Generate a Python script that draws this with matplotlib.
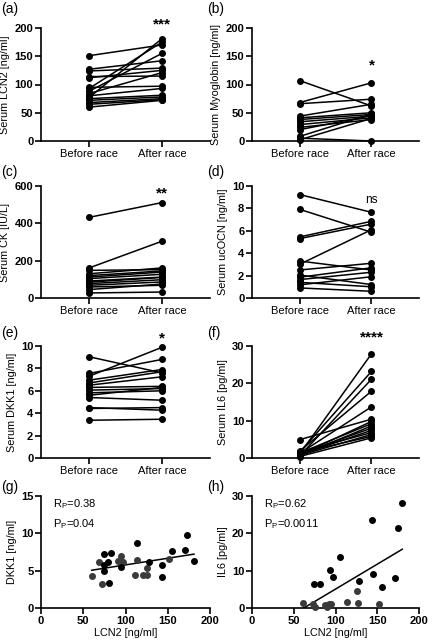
"""Serum markers before / after race, paired plots + LCN2 correlations"""

import numpy as np
import matplotlib
matplotlib.use('Agg')
import matplotlib.pyplot as plt

plt.rcParams['font.family'] = ['Liberation Sans', 'DejaVu Sans']

groups = ['Before race', 'After race']

lcn2_before = [151, 127, 124, 114, 112, 95, 93, 88, 84, 80, 77, 75, 72, 68, 65, 60]
lcn2_after = [170, 142, 129, 115, 125, 97, 175, 155, 121, 93, 181, 81, 78, 75, 73, 72]

myo_before = [107, 68, 66, 44, 41, 38, 34, 29, 24, 20, 8, 5, 2]
myo_after = [62, 103, 74, 65, 50, 47, 44, 41, 38, 45, 48, 0, 40]

ck_before = [432, 161, 148, 130, 112, 104, 91, 77, 68, 59, 45, 27, 120, 85]
ck_after = [511, 304, 152, 161, 139, 127, 112, 98, 86, 68, 75, 32, 145, 110]

ocn_before = [9.24, 7.92, 5.45, 5.3, 3.3, 3.0, 2.5, 2.05, 1.85, 1.64, 1.4, 1.17, 0.9]
ocn_after = [7.65, 5.87, 6.85, 6.6, 2.5, 6.1, 3.1, 1.2, 2.7, 2.3, 1.0, 1.9, 0.6]

dkk1_before = [9.04, 7.55, 7.3, 6.95, 6.7, 6.5, 6.3, 6.06, 5.82, 5.6, 5.4, 4.5, 4.42, 3.37]
dkk1_after = [7.6, 8.8, 9.88, 7.9, 7.7, 7.25, 6.4, 6.2, 6.0, 6.3, 5.16, 4.27, 4.5, 3.46]

il6_before = [1.0, 1.5, 0.5, 1.8, 1.2, 4.9, 0.8, 1.3, 0.6, 1.1, 0.9, 1.6, 0.7, 1.4, 0.4]
il6_after = [27.9, 23.2, 21.1, 17.9, 13.7, 10.4, 9.8, 9.2, 8.6, 8.0, 7.4, 6.8, 6.3, 5.8, 5.4]

# correlation panels: before (grey) and after (black) points
g_lcn2_before = [60, 72, 69, 91.5, 94.7, 97.4, 114, 111, 125, 126, 151, 121]
g_dkk1_before = [4.3, 3.2, 6.1, 6.3, 7.0, 6.2, 6.4, 4.4, 4.4, 5.3, 6.6, 4.4]
g_lcn2_after = [81, 74, 74, 79, 75, 83, 94.7, 114, 128, 143.6, 143, 155, 170, 173, 181]
g_dkk1_after = [3.3, 5.8, 5.0, 6.1, 7.2, 7.3, 5.5, 8.7, 6.1, 5.8, 4.2, 7.7, 7.8, 9.8, 6.3]

h_lcn2_before = [61, 73, 76, 88, 92, 95, 114, 126, 126.6, 151.5, 90]
h_il6_before = [1.25, 1.0, 0.3, 0.8, 1.0, 1.2, 1.7, 4.6, 1.25, 1.0, 0.4]
h_lcn2_after = [180, 144, 175, 105, 93.5, 97, 74.5, 81, 128.6, 144.7, 171, 156]
h_il6_after = [28, 23.6, 21.3, 13.7, 10.2, 8.2, 6.3, 6.3, 7.3, 9.1, 8.1, 5.7]

FIG_W, FIG_H = 433, 643


def rect(left, top, right, bottom):
    return [left / FIG_W, 1 - bottom / FIG_H, (right - left) / FIG_W, (bottom - top) / FIG_H]


def style_axes(ax, yticks):
    for side in ['top', 'right']:
        ax.spines[side].set_visible(False)
    for side in ['left', 'bottom']:
        ax.spines[side].set_linewidth(1.2)
    ax.set_yticks(yticks)
    ax.set_ylim(yticks[0], yticks[-1])
    ax.tick_params(direction='out', length=4, width=1.2, labelsize=8, pad=1.5)
    for lab in ax.get_yticklabels():
        lab.set_fontweight('bold')


def paired_plot(ax, before, after, yticks, ylabel, sig, sig_y, sig_size=11):
    for b, a in zip(before, after):
        ax.plot([0, 1], [b, a], color='black', lw=1.1, marker='o', ms=4.0,
                clip_on=False, zorder=3)
    style_axes(ax, yticks)
    ax.set_xlim(-0.66, 1.66)
    ax.set_xticks([0, 1])
    ax.set_xticklabels(groups, fontsize=8)
    ax.set_ylabel(ylabel, fontsize=7.8, labelpad=3)
    weight = 'normal' if sig == 'ns' else 'bold'
    ax.text(1, sig_y, sig, ha='center', va='center', fontsize=sig_size, fontweight=weight)


def scatter_plot(ax, xb, yb, xa, ya, yticks, ylabel, r_text, p_text):
    ax.plot(xb, yb, 'o', color='#3a3a3a', ms=4.0, clip_on=False, zorder=3)
    ax.plot(xa, ya, 'o', color='black', ms=4.0, clip_on=False, zorder=3)
    x_all = np.array(xb + xa)
    y_all = np.array(yb + ya)
    slope, intercept = np.polyfit(x_all, y_all, 1)
    xs = np.array([x_all.min(), x_all.max()])
    ax.plot(xs, slope * xs + intercept, color='black', lw=1.1)
    style_axes(ax, yticks)
    ax.set_xlim(0, 200)
    ax.set_xticks([0, 50, 100, 150, 200])
    for lab in ax.get_xticklabels():
        lab.set_fontweight('bold')
    ax.set_ylabel(ylabel, fontsize=7.8, labelpad=3)
    ax.set_xlabel('LCN2 [ng/ml]', fontsize=7.8, labelpad=2)
    ax.text(0.07, 0.99, r_text, transform=ax.transAxes, fontsize=8, va='top')
    ax.text(0.07, 0.81, p_text, transform=ax.transAxes, fontsize=8, va='top')


fig = plt.figure(figsize=(FIG_W / 100, FIG_H / 100), dpi=100)

cols = [(41, 210), (252, 419)]
rows = [(28, 141), (186, 298), (346, 458), (496, 608)]

ax_a = fig.add_axes(rect(cols[0][0], rows[0][0], cols[0][1], rows[0][1]))
paired_plot(ax_a, lcn2_before, lcn2_after, [0, 50, 100, 150, 200], 'Serum LCN2 [ng/ml]', '***', 206)

ax_b = fig.add_axes(rect(cols[1][0], rows[0][0], cols[1][1], rows[0][1]))
paired_plot(ax_b, myo_before, myo_after, [0, 50, 100, 150, 200], 'Serum Myoglobin [ng/ml]', '*', 134)

ax_c = fig.add_axes(rect(cols[0][0], rows[1][0], cols[0][1], rows[1][1]))
paired_plot(ax_c, ck_before, ck_after, [0, 200, 400, 600], 'Serum CK [IU/L]', '**', 560)

ax_d = fig.add_axes(rect(cols[1][0], rows[1][0], cols[1][1], rows[1][1]))
paired_plot(ax_d, ocn_before, ocn_after, [0, 2, 4, 6, 8, 10], 'Serum ucOCN [ng/ml]', 'ns', 8.75, 8.5)

ax_e = fig.add_axes(rect(cols[0][0], rows[2][0], cols[0][1], rows[2][1]))
paired_plot(ax_e, dkk1_before, dkk1_after, [0, 2, 4, 6, 8, 10], 'Serum DKK1 [ng/ml]', '*', 10.7)

ax_f = fig.add_axes(rect(cols[1][0], rows[2][0], cols[1][1], rows[2][1]))
paired_plot(ax_f, il6_before, il6_after, [0, 10, 20, 30], 'Serum IL6 [pg/ml]', '****', 32.2)

ax_g = fig.add_axes(rect(cols[0][0], rows[3][0], cols[0][1], rows[3][1]))
scatter_plot(ax_g, g_lcn2_before, g_dkk1_before, g_lcn2_after, g_dkk1_after,
             [0, 5, 10, 15], 'DKK1 [ng/ml]', r'R$_\mathregular{P}$=0.38', r'P$_\mathregular{P}$=0.04')

ax_h = fig.add_axes(rect(cols[1][0], rows[3][0], cols[1][1], rows[3][1]))
scatter_plot(ax_h, h_lcn2_before, h_il6_before, h_lcn2_after, h_il6_after,
             [0, 10, 20, 30], 'IL6 [pg/ml]', r'R$_\mathregular{P}$=0.62', r'P$_\mathregular{P}$=0.0011')

letters = [('(a)', 1, 9), ('(b)', 207, 9), ('(c)', 1, 172), ('(d)', 207, 172),
           ('(e)', 1, 333), ('(f)', 207, 333), ('(g)', 1, 487), ('(h)', 207, 487)]
for txt, x, y in letters:
    fig.text(x / FIG_W, 1 - y / FIG_H, txt, fontsize=10, va='center', ha='left')

fig.savefig('out.png', dpi=100)
